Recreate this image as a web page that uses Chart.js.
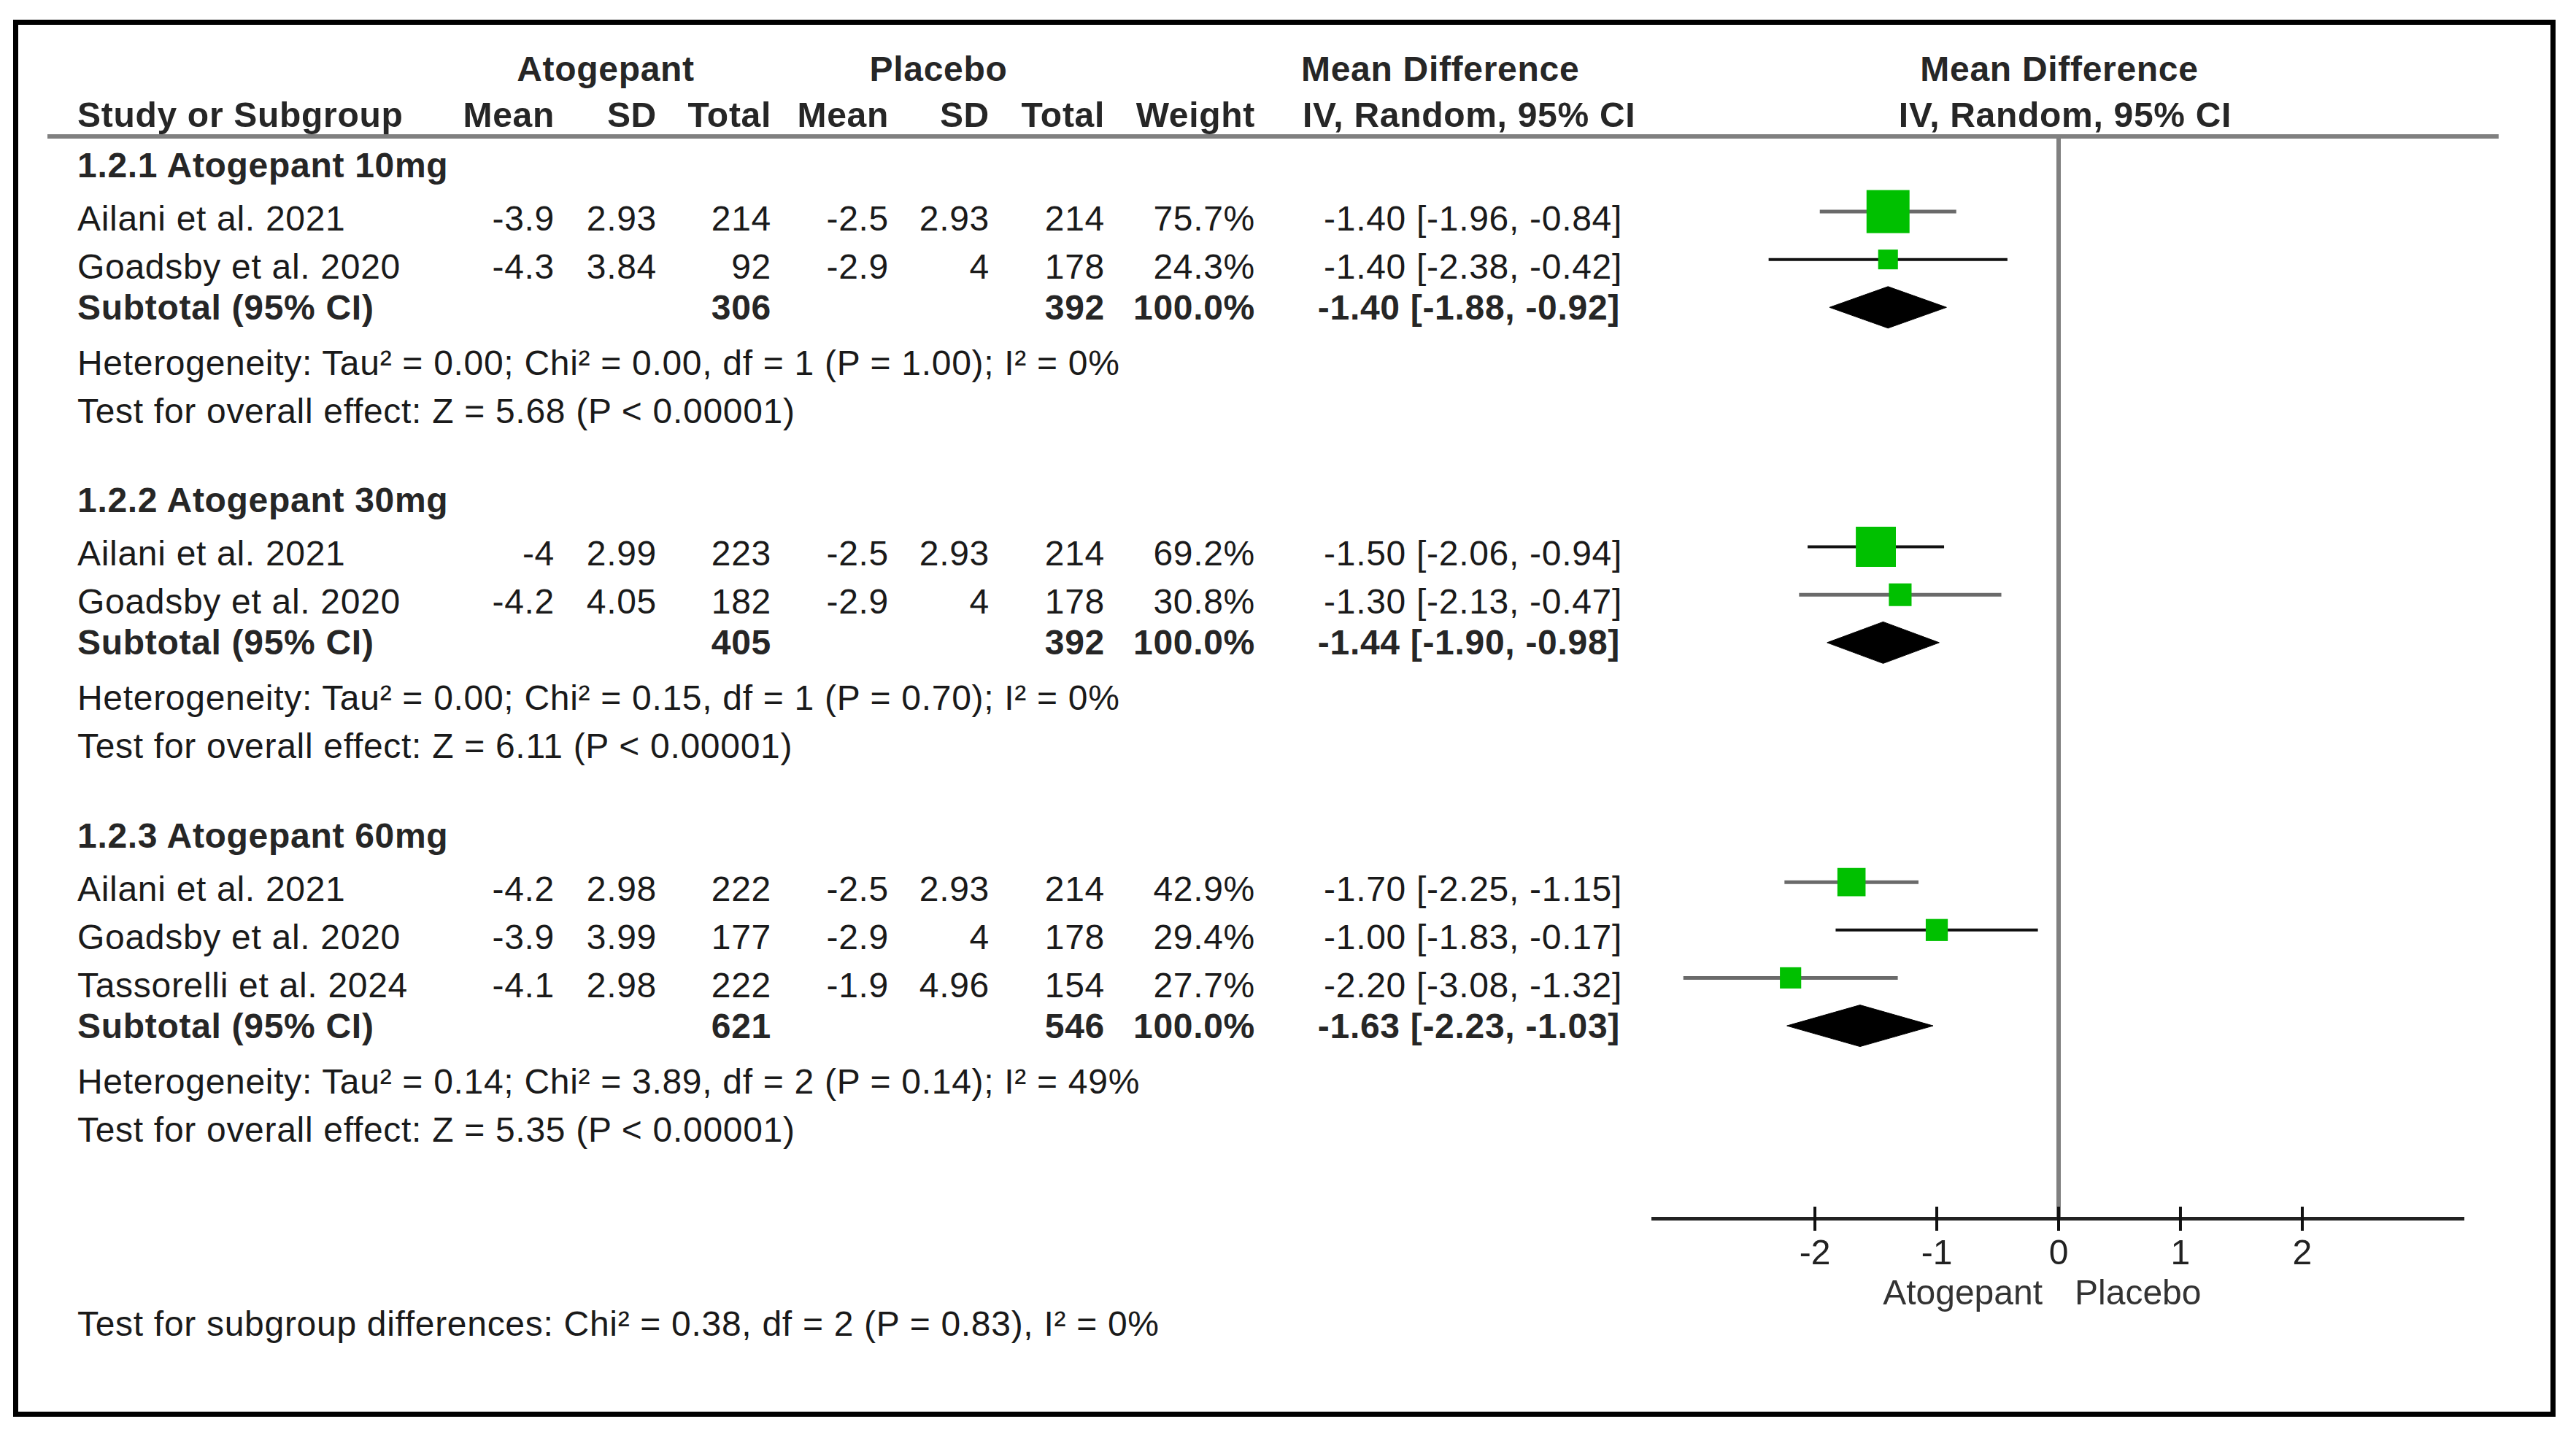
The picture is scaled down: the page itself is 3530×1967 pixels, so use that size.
<!DOCTYPE html>
<html lang="en">
<head>
    <meta charset="UTF-8">
    <title>Atogepant vs Placebo - Forest Plot</title>
    <style>
        body {
            margin: 0;
            background: #fff;
            font-family: "Liberation Sans", Arial, sans-serif;
        }
        #page {
            position: relative;
            width: 3530px;
            height: 1967px;
            overflow: hidden;
        }
        #frame {
            position: absolute;
            left: 18px;
            top: 27px;
            width: 3484px;
            height: 1915px;
            border: 7px solid #000;
            box-sizing: border-box;
        }
        #rule {
            position: absolute;
            left: 65px;
            top: 184px;
            width: 3359px;
            height: 6px;
            background: #808080;
        }
        .t {
            position: absolute;
            font-size: 48px;
            line-height: 60px;
            height: 60px;
            letter-spacing: 0.7px;
            white-space: nowrap;
            color: #1a1a1a;
        }
        .b { font-weight: bold; color: #262626; }
        #forest {
            position: absolute;
            left: 2240px;
            top: 150px;
        }
    </style>
    <script src="https://cdn.jsdelivr.net/npm/chart.js"></script>
</head>
<body>
<div id="page">
    <div id="frame"></div>
    <canvas id="forest" width="1200" height="1670"></canvas>
    <div id="rule"></div>
</div>

<script>
    // ---- data ----
    const groups = ['1.2.1 Atogepant 10mg', '1.2.2 Atogepant 30mg', '1.2.3 Atogepant 60mg'];
    const studies = ['Ailani et al. 2021', 'Goadsby et al. 2020',
                     'Ailani et al. 2021', 'Goadsby et al. 2020',
                     'Ailani et al. 2021', 'Goadsby et al. 2020', 'Tassorelli et al. 2024'];
    const studyGroup = [0, 0, 1, 1, 2, 2, 2];
    const atoMean = [-3.9, -4.3, -4, -4.2, -4.2, -3.9, -4.1];
    const atoSD = [2.93, 3.84, 2.99, 4.05, 2.98, 3.99, 2.98];
    const atoTotal = [214, 92, 223, 182, 222, 177, 222];
    const plaMean = [-2.5, -2.9, -2.5, -2.9, -2.5, -2.9, -1.9];
    const plaSD = [2.93, 4, 2.93, 4, 2.93, 4, 4.96];
    const plaTotal = [214, 178, 214, 178, 214, 178, 154];
    const weight = [75.7, 24.3, 69.2, 30.8, 42.9, 29.4, 27.7];
    const md = [-1.40, -1.40, -1.50, -1.30, -1.70, -1.00, -2.20];
    const ciLow = [-1.96, -2.38, -2.06, -2.13, -2.25, -1.83, -3.08];
    const ciHigh = [-0.84, -0.42, -0.94, -0.47, -1.15, -0.17, -1.32];

    const subAtoTotal = [306, 405, 621];
    const subPlaTotal = [392, 392, 546];
    const subWeight = [100.0, 100.0, 100.0];
    const subMd = [-1.40, -1.44, -1.63];
    const subLow = [-1.88, -1.90, -2.23];
    const subHigh = [-0.92, -0.98, -1.03];

    const heterogeneity = [
        'Heterogeneity: Tau² = 0.00; Chi² = 0.00, df = 1 (P = 1.00); I² = 0%',
        'Heterogeneity: Tau² = 0.00; Chi² = 0.15, df = 1 (P = 0.70); I² = 0%',
        'Heterogeneity: Tau² = 0.14; Chi² = 3.89, df = 2 (P = 0.14); I² = 49%'
    ];
    const overallEffect = [
        'Test for overall effect: Z = 5.68 (P < 0.00001)',
        'Test for overall effect: Z = 6.11 (P < 0.00001)',
        'Test for overall effect: Z = 5.35 (P < 0.00001)'
    ];
    const subgroupTest = 'Test for subgroup differences: Chi² = 0.38, df = 2 (P = 0.83), I² = 0%';
    const xTicks = [-2, -1, 0, 1, 2];
    const favourLeft = 'Atogepant';
    const favourRight = 'Placebo';

    // ---- layout (pixels / plot rows) ----
    const groupRowStart = [0, 7, 14];      // plot row of first study in each group
    const groupTextY = [227, 686, 1146];   // text centre of group heading
    const ciColors = ['#6a6a6a', '#111', '#111', '#6a6a6a', '#6a6a6a', '#111', '#6a6a6a'];

    const page = document.getElementById('page');

    function addText(str, x, y, align, bold) {
        let d = document.createElement('div');
        d.className = 't' + (bold ? ' b' : '');
        d.textContent = str;
        d.style.top = (y - 30) + 'px';
        if (align === 'right') {
            d.style.left = (x - 2000) + 'px';
            d.style.width = '2000px';
            d.style.textAlign = 'right';
        } else if (align === 'center') {
            d.style.left = (x - 1000) + 'px';
            d.style.width = '2000px';
            d.style.textAlign = 'center';
        } else {
            d.style.left = x + 'px';
        }
        page.appendChild(d);
    }

    function fmtCI(m, lo, hi) {
        return m.toFixed(2) + ' [' + lo.toFixed(2) + ', ' + hi.toFixed(2) + ']';
    }

    // column right edges
    const col = { atoMean: 760, atoSD: 900, atoTotal: 1057, plaMean: 1218, plaSD: 1356,
                  plaTotal: 1514, weight: 1720, ci: 2223 };

    // header
    addText('Atogepant', 830, 95, 'center', true);
    addText('Placebo', 1286, 95, 'center', true);
    addText('Mean Difference', 1783, 95, 'left', true);
    addText('Mean Difference', 2822, 95, 'center', true);
    addText('Study or Subgroup', 106, 158, 'left', true);
    addText('Mean', col.atoMean, 158, 'right', true);
    addText('SD', col.atoSD, 158, 'right', true);
    addText('Total', col.atoTotal, 158, 'right', true);
    addText('Mean', col.plaMean, 158, 'right', true);
    addText('SD', col.plaSD, 158, 'right', true);
    addText('Total', col.plaTotal, 158, 'right', true);
    addText('Weight', col.weight, 158, 'right', true);
    addText('IV, Random, 95% CI', 1785, 158, 'left', true);
    addText('IV, Random, 95% CI', 2830, 158, 'center', true);

    // table body
    groups.forEach((g, gi) => {
        let y = groupTextY[gi];
        addText(g, 106, y, 'left', true);
        y += 73;
        let first = true;
        studies.forEach((s, i) => {
            if (studyGroup[i] !== gi) return;
            if (!first) y += 66;
            first = false;
            addText(s, 106, y, 'left', false);
            addText(String(atoMean[i]), col.atoMean, y, 'right');
            addText(String(atoSD[i]), col.atoSD, y, 'right');
            addText(String(atoTotal[i]), col.atoTotal, y, 'right');
            addText(String(plaMean[i]), col.plaMean, y, 'right');
            addText(String(plaSD[i]), col.plaSD, y, 'right');
            addText(String(plaTotal[i]), col.plaTotal, y, 'right');
            addText(weight[i].toFixed(1) + '%', col.weight, y, 'right');
            addText(fmtCI(md[i], ciLow[i], ciHigh[i]), col.ci, y, 'right');
        });
        y += 56;
        addText('Subtotal (95% CI)', 106, y, 'left', true);
        addText(String(subAtoTotal[gi]), col.atoTotal, y, 'right', true);
        addText(String(subPlaTotal[gi]), col.plaTotal, y, 'right', true);
        addText(subWeight[gi].toFixed(1) + '%', col.weight, y, 'right', true);
        addText(fmtCI(subMd[gi], subLow[gi], subHigh[gi]), col.ci - 3, y, 'right', true);
        y += 76;
        addText(heterogeneity[gi], 106, y, 'left');
        y += 66;
        addText(overallEffect[gi], 106, y, 'left');
    });
    addText(subgroupTest, 106, 1815, 'left');

    // ---- plot ----
    const studyRow = studies.map((s, i) => {
        let g = studyGroup[i];
        return groupRowStart[g] + studyGroup.slice(0, i).filter(v => v === g).length;
    });
    const subRow = groups.map((g, gi) => groupRowStart[gi] + studyGroup.filter(v => v === gi).length);
    const diamondHalf = 0.434;  // in row units

    let datasets = [];

    // weight squares
    datasets.push({
        type: 'scatter',
        order: 0,
        data: md.map((m, i) => ({ x: m, y: studyRow[i] })),
        pointStyle: 'rect',
        pointRadius: weight.map(w => (12 + 0.62 * w) / Math.SQRT2),
        pointBackgroundColor: '#00c000',
        pointBorderWidth: 0
    });

    // confidence interval lines
    md.forEach((m, i) => {
        datasets.push({
            type: 'line',
            order: 1,
            data: [{ x: ciLow[i], y: studyRow[i] }, { x: ciHigh[i], y: studyRow[i] }],
            borderColor: ciColors[i],
            borderWidth: ciColors[i] === '#111' ? 4 : 5,
            pointRadius: 0,
            fill: false
        });
    });

    // subtotal diamonds
    subMd.forEach((m, gi) => {
        let r = subRow[gi];
        datasets.push({
            type: 'line',
            order: 1,
            data: [
                { x: subLow[gi], y: r },
                { x: m, y: r - diamondHalf },
                { x: subHigh[gi], y: r },
                { x: m, y: r + diamondHalf },
                { x: subLow[gi], y: r }
            ],
            borderColor: '#000',
            borderWidth: 1,
            backgroundColor: '#000',
            pointRadius: 0,
            tension: 0,
            fill: 'shape'
        });
    });

    // tick marks crossing the axis + favour labels
    const axisDecor = {
        id: 'axisDecor',
        afterDraw(chart) {
            const ctx = chart.ctx;
            const xs = chart.scales.x;
            const bottom = chart.chartArea.bottom;
            ctx.save();
            ctx.strokeStyle = '#111';
            ctx.lineWidth = 4;
            xTicks.forEach(v => {
                let px = xs.getPixelForValue(v);
                ctx.beginPath();
                ctx.moveTo(px, bottom - 16);
                ctx.lineTo(px, bottom + 17);
                ctx.stroke();
            });
            let p0 = xs.getPixelForValue(0);
            ctx.fillStyle = '#333';
            ctx.font = '48px "Liberation Sans", Arial, sans-serif';
            ctx.textBaseline = 'middle';
            ctx.textAlign = 'right';
            ctx.fillText(favourLeft, p0 - 22, bottom + 105);
            ctx.textAlign = 'left';
            ctx.fillText(favourRight, p0 + 22, bottom + 105);
            ctx.restore();
        }
    };

    let forestCtx = document.getElementById('forest').getContext('2d');
    let forestChart = new Chart(forestCtx, {
        type: 'scatter',
        data: { datasets: datasets },
        plugins: [axisDecor],
        options: {
            responsive: false,
            animation: false,
            layout: { autoPadding: false, padding: { left: 25, right: 63, top: 37, bottom: 0 } },
            plugins: { legend: { display: false }, tooltip: { enabled: false } },
            scales: {
                x: {
                    type: 'linear',
                    min: -3.33,
                    max: 3.33,
                    afterBuildTicks: scale => { scale.ticks = xTicks.map(v => ({ value: v })); },
                    afterFit: scale => { scale.height = 150; },
                    grid: {
                        drawTicks: false,
                        color: c => (c.tick && c.tick.value === 0) ? '#808080' : 'rgba(0,0,0,0)',
                        lineWidth: c => (c.tick && c.tick.value === 0) ? 6 : 0
                    },
                    border: { display: true, color: '#222', width: 5 },
                    ticks: {
                        padding: 21,
                        color: '#222',
                        font: { family: '"Liberation Sans", Arial, sans-serif', size: 48 },
                        callback: v => String(v)
                    }
                },
                y: {
                    type: 'linear',
                    display: false,
                    reverse: true,
                    min: -1.569,
                    max: 21.02
                }
            }
        }
    });
</script>
</body>
</html>
